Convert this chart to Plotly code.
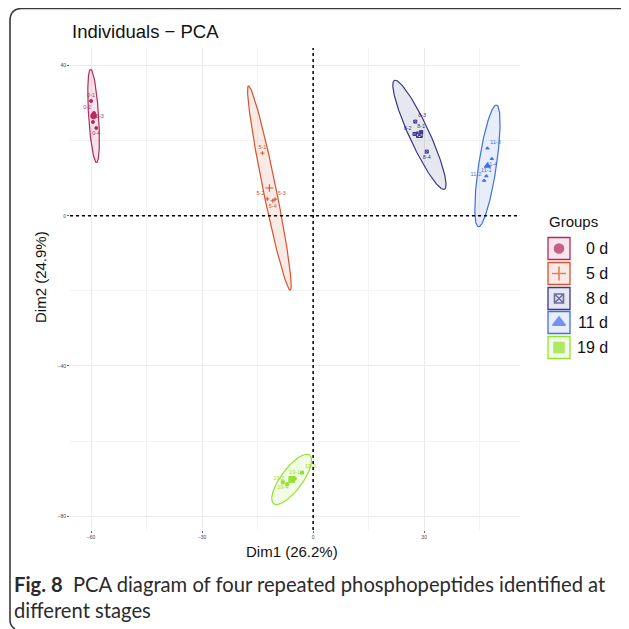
import numpy as np
import plotly.graph_objects as go

# ---------------- data ----------------
groups = ["0 d", "5 d", "8 d", "11 d", "19 d"]
colors = ["#B8285E", "#D9522E", "#3B3787", "#3F6FE3", "#94E22E"]
symbols = ["circle", "cross-thin", "square-x-open", "triangle-up", "square"]

# individual coordinates (Dim1, Dim2), four replicates per group
ind_labels = {
    "0 d": ["0-1", "0-2", "0-3", "0-4"],
    "5 d": ["5-1", "5-2", "5-3", "5-4"],
    "8 d": ["8-1", "8-2", "8-3", "8-4"],
    "11 d": ["11-1", "11-2", "11-3", "11-4"],
    "19 d": ["19-1", "19-2", "19-3", "19-4"],
}
dim1 = {
    "0 d": [-60.0, -59.2, -59.5, -58.6],
    "5 d": [-13.7, -12.4, -10.3, -10.9],
    "8 d": [29.2, 27.4, 27.6, 30.7],
    "11 d": [46.8, 46.2, 47.1, 48.3],
    "19 d": [-5.0, -7.0, -3.0, -8.2],
}
dim2 = {
    "0 d": [30.6, 27.4, 25.0, 23.4],
    "5 d": [16.7, 4.5, 4.4, 4.0],
    "8 d": [22.3, 21.8, 25.1, 17.1],
    "11 d": [10.6, 9.4, 18.0, 15.2],
    "19 d": [-70.0, -71.5, -68.4, -71.0],
}
# confidence ellipse shape: semi-axes (Dim units) and orientation (degrees)
ell_a = [12.45, 27.8, 16.0, 16.4, 8.1]
ell_b = [1.35, 1.75, 2.7, 2.4, 2.9]
ell_angle = [93.7, 101.7, 115.0, 81.4, 53.0]

x_ticks = [-60, -30, 0, 30]
y_ticks = [40, 0, -40, -80]
x_range = [-65.7, 55.9]
y_range = [-83.7, 44.7]

# ---------------- layout geometry ----------------
OFF = 8                      # page body margin of the browser
FW, FH = 629 - OFF, 629 - OFF
L, R, T, B = 70 - OFF, 520 - OFF, 48 - OFF, 530 - OFF


def fx(rx):
    """reference-picture x pixel -> paper coordinate"""
    return (rx - OFF) / FW


def fy(ry):
    return 1 - (ry - OFF) / FH


def rgba(c, a):
    return f"rgba({int(c[1:3], 16)},{int(c[3:5], 16)},{int(c[5:7], 16)},{a})"


fig = go.Figure()

label_pos = ["top center", "top left", "top right", "bottom center"]
t = np.linspace(0, 2 * np.pi, 200)
for i, g in enumerate(groups):
    xs = np.array(dim1[g])
    ys = np.array(dim2[g])
    cx, cy = xs.mean(), ys.mean()
    th = np.deg2rad(ell_angle[i])
    ex = cx + ell_a[i] * np.cos(th) * np.cos(t) - ell_b[i] * np.sin(th) * np.sin(t)
    ey = cy + ell_a[i] * np.sin(th) * np.cos(t) + ell_b[i] * np.cos(th) * np.sin(t)
    fig.add_trace(go.Scatter(
        x=ex, y=ey, mode="lines", fill="toself",
        fillcolor=rgba(colors[i], 0.12),
        line=dict(color=colors[i], width=1.2),
        hoverinfo="skip", showlegend=False))
    fig.add_trace(go.Scatter(
        x=xs, y=ys, mode="markers+text", text=ind_labels[g],
        textposition=label_pos,
        textfont=dict(size=5.5, color=colors[i], family="Liberation Sans"),
        marker=dict(symbol=symbols[i], size=3, color=colors[i],
                    line=dict(color=colors[i], width=1)),
        showlegend=False))
    fig.add_trace(go.Scatter(
        x=[cx], y=[cy], mode="markers",
        marker=dict(symbol=symbols[i], size=5.5, color=colors[i],
                    line=dict(color=colors[i], width=1.1)),
        showlegend=False))

shapes = []
# reference lines at 0
shapes.append(dict(type="line", xref="x domain", yref="y", x0=0, x1=1, y0=0, y1=0,
                   line=dict(color="black", width=1.5, dash="dot")))
shapes.append(dict(type="line", xref="x", yref="y domain", x0=0, x1=0, y0=0, y1=1,
                   line=dict(color="black", width=1.5, dash="dot")))

# ---------------- legend (manual) ----------------
leg_y = [248.5, 273.5, 298.5, 322.5, 347.5]
box = 22
for i, g in enumerate(groups):
    yc = leg_y[i]
    shapes.append(dict(type="rect", xref="paper", yref="paper",
                       x0=fx(548), x1=fx(548 + box),
                       y0=fy(yc - box / 2), y1=fy(yc + box / 2),
                       line=dict(color=colors[i], width=1.3),
                       fillcolor=rgba(colors[i], 0.12)))

# frame of the figure panel
frame_path = (f"M {fx(628)},{fy(8.5)} L {fx(22)},{fy(8.5)} "
              f"Q {fx(10)},{fy(8.5)} {fx(10)},{fy(21)} "
              f"L {fx(10)},{fy(620)} Q {fx(10)},{fy(626)} {fx(15)},{fy(629)}")
shapes.append(dict(type="path", xref="paper", yref="paper", path=frame_path,
                   line=dict(color="#3a3a3a", width=1.6)))

# legend key symbols, drawn in a full-figure pixel subplot
fig.add_trace(go.Scatter(
    x=[559 - OFF] * len(groups), y=[v - OFF for v in leg_y], mode="markers",
    marker=dict(symbol=symbols, size=[9, 10, 9, 11, 10], color=colors,
                line=dict(color=colors, width=1.6)),
    xaxis="x2", yaxis="y2", cliponaxis=False, showlegend=False, hoverinfo="skip"))

annotations = []
annotations.append(dict(x=fx(547), y=fy(222), xref="paper", yref="paper",
                        text="Groups", showarrow=False, xanchor="left", yanchor="middle",
                        font=dict(size=15, color="#111", family="Liberation Sans")))
for i, g in enumerate(groups):
    annotations.append(dict(x=fx(610), y=fy(leg_y[i]), xref="paper", yref="paper",
                            text=g, showarrow=False, xanchor="right", yanchor="middle",
                            font=dict(size=16, color="#111", family="Liberation Sans")))

annotations.append(dict(x=fx(70), y=fy(32), xref="paper", yref="paper",
                        text="Individuals − PCA", showarrow=False, xanchor="left",
                        yanchor="middle",
                        font=dict(size=18.5, color="#111", family="Liberation Sans")))
annotations.append(dict(x=fx(292), y=fy(551), xref="paper", yref="paper",
                        text="Dim1 (26.2%)", showarrow=False, xanchor="center",
                        yanchor="middle",
                        font=dict(size=15, color="#111", family="Liberation Sans")))
annotations.append(dict(x=fx(41), y=fy(277), xref="paper", yref="paper",
                        text="Dim2 (24.9%)", showarrow=False, textangle=-90,
                        xanchor="center", yanchor="middle",
                        font=dict(size=15, color="#111", family="Liberation Sans")))
annotations.append(dict(x=fx(12), y=fy(584), xref="paper", yref="paper",
                        text="<b>Fig. 8</b>  PCA diagram of four repeated phosphopeptides identified at",
                        showarrow=False, xanchor="left", yanchor="middle",
                        font=dict(size=20.2, color="#2b2b2b", family="Lato")))
annotations.append(dict(x=fx(12), y=fy(610), xref="paper", yref="paper",
                        text="different stages",
                        showarrow=False, xanchor="left", yanchor="middle",
                        font=dict(size=20.2, color="#2b2b2b", family="Lato")))

tick_font = dict(size=5, color="#444", family="Liberation Sans")
fig.update_layout(
    width=FW, height=FH,
    margin=dict(l=0, r=0, t=0, b=0, pad=0),
    paper_bgcolor="white", plot_bgcolor="rgba(0,0,0,0)",
    showlegend=False,
    shapes=shapes,
    annotations=annotations,
    xaxis=dict(domain=[L / FW, R / FW], range=x_range, tickvals=x_ticks,
               ticktext=[str(v).replace("-", "−") for v in x_ticks],
               showgrid=True, gridcolor="#EBEBEB", gridwidth=1,
               minor=dict(dtick=15, tick0=0, showgrid=True, gridcolor="#F3F3F3", gridwidth=1),
               zeroline=False, showline=False, ticks="outside", ticklen=2, tickcolor="#666",
               tickfont=tick_font, anchor="y"),
    yaxis=dict(domain=[1 - B / FH, 1 - T / FH], range=y_range, tickvals=y_ticks,
               ticktext=[str(v).replace("-", "−") for v in y_ticks],
               showgrid=True, gridcolor="#EBEBEB", gridwidth=1,
               minor=dict(dtick=20, tick0=0, showgrid=True, gridcolor="#F3F3F3", gridwidth=1),
               zeroline=False, showline=False, ticks="outside", ticklen=2, tickcolor="#666",
               tickfont=tick_font, anchor="x"),
    xaxis2=dict(domain=[0, 1], range=[0, FW], visible=False, fixedrange=True, anchor="y2"),
    yaxis2=dict(domain=[0, 1], range=[FH, 0], visible=False, fixedrange=True, anchor="x2"),
)

fig.write_html("out.html")
